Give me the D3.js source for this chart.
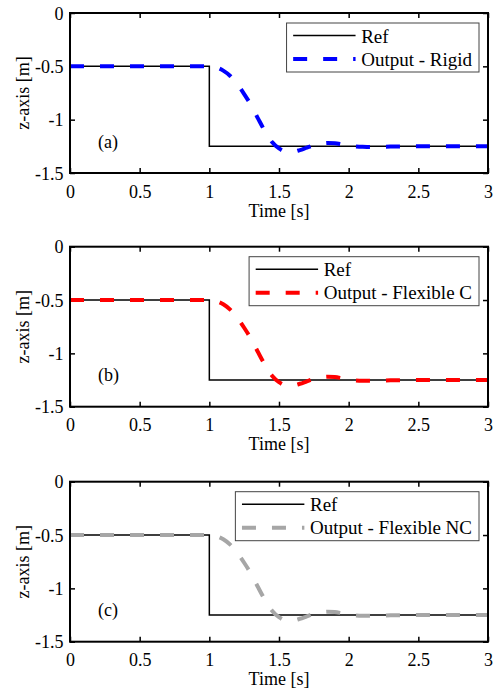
<!DOCTYPE html>
<html>
<head>
<meta charset="utf-8">
<script src="https://cdn.jsdelivr.net/npm/d3@7"></script>
<style>
  html, body { margin: 0; padding: 0; background: #fff; }
  svg { display: block; }
  text { font-family: "Liberation Serif", "Times New Roman", serif; fill: #000; }
</style>
</head>
<body>
<svg id="chart" width="496" height="694"></svg>
<script>
// ---- data ----
const xTicks = [0, 0.5, 1, 1.5, 2, 2.5, 3];
const yTicks = [0, -0.5, -1, -1.5];
const xTickLabels = ["0", "0.5", "1", "1.5", "2", "2.5", "3"];
const yTickLabels = ["0", "-0.5", "-1", "-1.5"];

const refTime = [0, 1, 1, 3];
const refZ = [-0.5, -0.5, -1.25, -1.25];

const outTime = [0, 1.0, 1.05, 1.1, 1.15, 1.2, 1.25, 1.3, 1.35, 1.4, 1.45, 1.5, 1.55, 1.6, 1.65, 1.7, 1.75, 1.8, 1.85, 1.9, 1.95, 2.0, 2.1, 2.2, 2.3, 2.5, 3.0];
const rigidZ = [-0.5, -0.5, -0.51, -0.54, -0.59, -0.665, -0.76, -0.865, -0.99, -1.11, -1.21, -1.27, -1.30, -1.30, -1.285, -1.262, -1.24, -1.226, -1.218, -1.221, -1.232, -1.245, -1.255, -1.256, -1.252, -1.25, -1.25];
const flexCZ = [-0.5, -0.5, -0.51, -0.54, -0.59, -0.665, -0.76, -0.865, -0.99, -1.11, -1.21, -1.27, -1.30, -1.30, -1.285, -1.262, -1.24, -1.226, -1.219, -1.222, -1.233, -1.246, -1.256, -1.257, -1.253, -1.25, -1.25];
const flexNCZ = [-0.5, -0.5, -0.51, -0.54, -0.59, -0.665, -0.76, -0.865, -0.99, -1.11, -1.21, -1.27, -1.30, -1.30, -1.285, -1.262, -1.24, -1.226, -1.219, -1.222, -1.233, -1.246, -1.256, -1.257, -1.253, -1.25, -1.25];

const panelLabels = ["(a)", "(b)", "(c)"];
const seriesNames = ["Output - Rigid", "Output - Flexible C", "Output - Flexible NC"];
const seriesValues = [rigidZ, flexCZ, flexNCZ];
const seriesColors = ["#0000ff", "#ff0000", "#a6a6a6"];

// ---- layout ----
const svg = d3.select("#chart");
const left = 70, right = 488, plotH = 160;
const tops = [13, 246.7, 481.7];

const x = d3.scaleLinear().domain([0, 3]).range([left, right]);

tops.forEach((top, i) => {
  const y = d3.scaleLinear().domain([-1.5, 0]).range([top + plotH, top]);
  const g = svg.append("g");

  const clipId = "clip" + i;
  svg.append("clipPath").attr("id", clipId)
    .append("rect").attr("x", left).attr("y", top).attr("width", right - left).attr("height", plotH);

  const tickLen = 5;
  const axB = g.append("g").attr("transform", `translate(0,${top + plotH})`)
    .call(d3.axisBottom(x).tickValues(xTicks).tickFormat((d, k) => xTickLabels[k]).tickSizeInner(-tickLen).tickSizeOuter(0).tickPadding(0));
  const axT = g.append("g").attr("transform", `translate(0,${top})`)
    .call(d3.axisTop(x).tickValues(xTicks).tickFormat("").tickSizeInner(-tickLen).tickSizeOuter(0));
  const axL = g.append("g").attr("transform", `translate(${left},0)`)
    .call(d3.axisLeft(y).tickValues(yTicks).tickFormat((d, k) => yTickLabels[k]).tickSizeInner(-tickLen).tickSizeOuter(0).tickPadding(0));
  const axR = g.append("g").attr("transform", `translate(${right},0)`)
    .call(d3.axisRight(y).tickValues(yTicks).tickFormat("").tickSizeInner(-tickLen).tickSizeOuter(0));
  [axB, axT, axL, axR].forEach(a => {
    a.select(".domain").remove();
    a.selectAll(".tick line").attr("stroke", "#000").attr("stroke-width", 1.5);
  });
  axB.selectAll(".tick text").attr("font-size", 18).attr("font-family", "Liberation Serif")
    .attr("y", 24.5).attr("dy", null);
  axL.selectAll(".tick text").attr("font-size", 18).attr("font-family", "Liberation Serif")
    .attr("x", -6.5).attr("dy", "0.34em");

  const line = d3.line().x(d => x(d[0])).y(d => y(d[1]));
  const curve = d3.line().x(d => x(d[0])).y(d => y(d[1])).curve(d3.curveMonotoneX);
  const cg = g.append("g").attr("clip-path", `url(#${clipId})`);
  cg.append("path").datum(refTime.map((t, k) => [t, refZ[k]]))
    .attr("d", line).attr("fill", "none").attr("stroke", "#000").attr("stroke-width", 1.5);
  cg.append("path").datum(outTime.map((t, k) => [t, seriesValues[i][k]]))
    .attr("d", curve).attr("fill", "none").attr("stroke", seriesColors[i])
    .attr("stroke-width", 4).attr("stroke-dasharray", "14,16");

  g.append("rect").attr("x", left).attr("y", top).attr("width", right - left).attr("height", plotH)
    .attr("fill", "none").attr("stroke", "#000").attr("stroke-width", 2);

  g.append("text").attr("x", (left + right) / 2).attr("y", top + plotH + 43.5)
    .attr("text-anchor", "middle").attr("font-size", 18).text("Time [s]");
  g.append("text").attr("transform", `translate(29,${top + plotH / 2}) rotate(-90)`)
    .attr("text-anchor", "middle").attr("font-size", 18).text("z-axis [m]");

  g.append("text").attr("x", 98).attr("y", top + 134.5).attr("font-size", 18).text(panelLabels[i]);

  const lg = g.append("g");
  const txt2 = lg.append("text").attr("font-size", 19).text(seriesNames[i]);
  const tw = txt2.node().getComputedTextLength();
  const boxW = 74.6 + tw + 7;
  const bx = right - 9 - boxW, by = top + 10, bh = 49;
  lg.insert("rect", ":first-child").attr("x", bx).attr("y", by).attr("width", boxW).attr("height", bh)
    .attr("fill", "#fff").attr("stroke", "#444").attr("stroke-width", 1);
  const r1 = by + 12.5, r2 = by + 36;
  lg.append("line").attr("x1", bx + 6.6).attr("x2", bx + 69).attr("y1", r1).attr("y2", r1)
    .attr("stroke", "#000").attr("stroke-width", 1.5);
  lg.append("line").attr("x1", bx + 6.6).attr("x2", bx + 69).attr("y1", r2).attr("y2", r2)
    .attr("stroke", seriesColors[i]).attr("stroke-width", 4).attr("stroke-dasharray", "14,16");
  lg.append("text").attr("x", bx + 74.6).attr("y", r1 + 7).attr("font-size", 19).text("Ref");
  txt2.attr("x", bx + 74.6).attr("y", r2 + 6.5);
});
</script>
</body>
</html>
